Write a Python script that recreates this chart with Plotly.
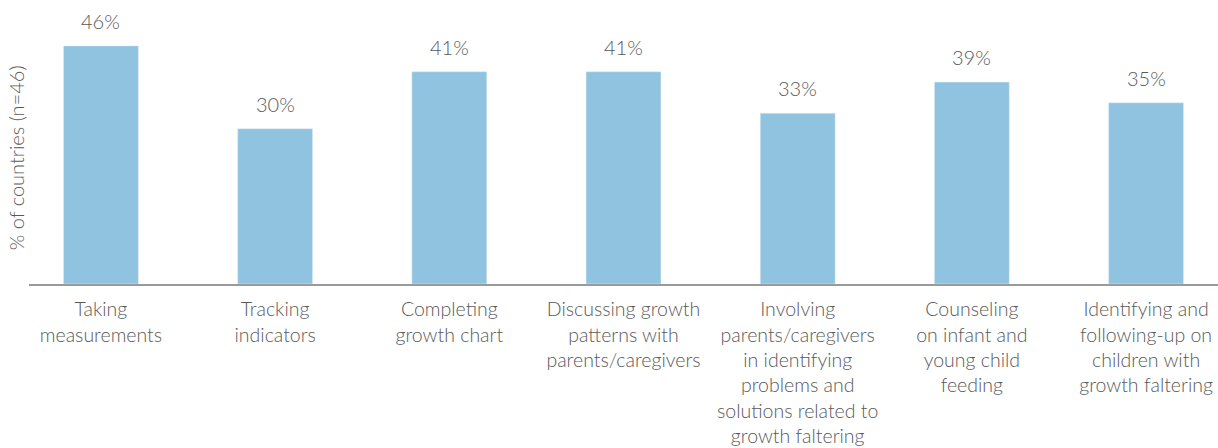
import plotly.graph_objects as go

# Data
categories = [
    'Taking<br>measurements',
    'Tracking<br>indicators',
    'Completing<br>growth chart',
    'Discussing growth<br>patterns with<br>parents/caregivers',
    'Involving<br>parents/caregivers<br>in identifying<br>problems and<br>solutions related to<br>growth faltering',
    'Counseling<br>on infant and<br>young child<br>feeding',
    'Identifying and<br>following-up on<br>children with<br>growth faltering',
]
values = [46, 30, 41, 41, 33, 39, 35]
positions = list(range(len(categories)))

grey = '#595959'
font_family = 'Lato'

fig = go.Figure(go.Bar(
    x=positions,
    y=values,
    width=0.43,
    marker_color='#8fc3df',
    hoverinfo='skip',
))

# value labels above bars
for p, v in zip(positions, values):
    fig.add_annotation(
        x=p, y=v, text=f'{v}%',
        showarrow=False, yanchor='bottom', yshift=11,
        font=dict(family=font_family, size=20, color=grey, weight=300),
    )

fig.update_layout(
    width=1218,
    height=448,
    margin=dict(l=29, r=0, t=20, b=164),
    paper_bgcolor='white',
    plot_bgcolor='white',
    font=dict(family=font_family, size=19, color=grey, weight=300),
    showlegend=False,
    xaxis=dict(
        range=[-0.413, 6.413],
        tickvals=positions,
        ticktext=categories,
        showline=True,
        linecolor='#9a9a9a',
        linewidth=1.5,
        ticks='',
        ticklabelstandoff=7,
        showgrid=False,
        zeroline=False,
        automargin=False,
        tickfont=dict(family=font_family, size=19.5, color=grey, weight=300),
    ),
    yaxis=dict(
        range=[0, 51],
        showticklabels=False,
        showgrid=False,
        zeroline=False,
        showline=False,
        ticks='',
        automargin=False,
    ),
)

fig.add_annotation(
    text='% of countries (n=46)',
    xref='paper', yref='paper',
    x=-0.011, y=0.48,
    xanchor='center', yanchor='middle',
    textangle=-90,
    showarrow=False,
    font=dict(family=font_family, size=20, color=grey, weight=300),
)

# drop the default page margin so the figure sits at the window's corner
fig.write_html(
    'out.html',
    config={'displayModeBar': False},
    post_script="document.body.style.margin='0';",
)
